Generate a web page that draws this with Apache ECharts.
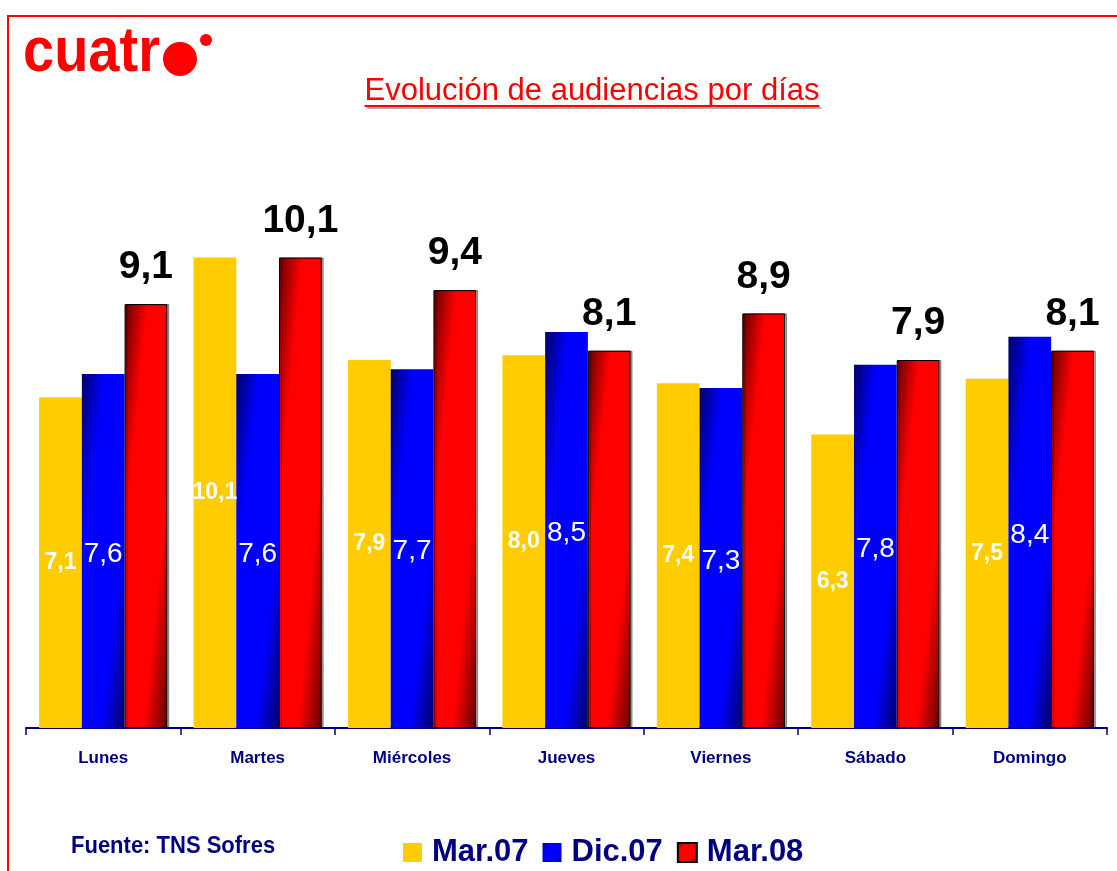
<!DOCTYPE html>
<html>
<head>
<meta charset="utf-8">
<title>Evolución de audiencias por días</title>
<script src="https://cdn.jsdelivr.net/npm/echarts@6/dist/echarts.min.js"></script>
<style>
  html, body { margin: 0; padding: 0; background: #fff; }
  #main { width: 1117px; height: 871px; }
</style>
</head>
<body>
<div id="main"></div>
<script>
// datos
const dias = ['Lunes', 'Martes', 'Miércoles', 'Jueves', 'Viernes', 'Sábado', 'Domingo'];
const marzo07 = [7.1, 10.1, 7.9, 8.0, 7.4, 6.3, 7.5];
const diciembre07 = [7.6, 7.6, 7.7, 8.5, 7.3, 7.8, 8.4];
const marzo08 = [9.1, 10.1, 9.4, 8.1, 8.9, 7.9, 8.1];
const nombres = ['Mar.07', 'Dic.07', 'Mar.08'];

const FONT = '"Liberation Sans", Arial, sans-serif';
const NAVY = '#000080';
const W = 1117, H = 871;
const grid = { left: 26, right: 10, top: 169, bottom: 143 };
const yMax = 12;
const catGap = 0.17;

// tamaño de barra aprox. para orientar el degradado en diagonal (como Excel)
const pxPorUnidad = (H - grid.top - grid.bottom) / yMax;
const anchoBarra = (W - grid.left - grid.right) / dias.length * (1 - catGap) / 3;

function paradas(oscuro, claro) {
    return [
        { offset: 0, color: oscuro },
        { offset: 0.27, color: claro },
        { offset: 0.72, color: claro },
        { offset: 1, color: oscuro }
    ];
}
function degradado(v, oscuro, claro) {
    const h = v * pxPorUnidad, w = anchoBarra;
    const L2 = h * h + w * w;
    const a = h * h / L2, b = w * w / L2;
    return new echarts.graphic.LinearGradient(0.5 - a, 0.5 - b, 0.5 + a, 0.5 + b, paradas(oscuro, claro));
}
function degradadoLeyenda(oscuro, claro) {
    return new echarts.graphic.LinearGradient(0, 0, 1, 1, paradas(oscuro, claro));
}
const coma = p => p.value.toFixed(1).replace('.', ',');

// ancho del título para el subrayado
const ctx = document.createElement('canvas').getContext('2d');
const tituloTxt = 'Evolución de audiencias por días';
const tituloFont = 31;
ctx.font = tituloFont + 'px ' + FONT;
const tituloW = ctx.measureText(tituloTxt).width;
const tituloX = 592;

const chart = echarts.init(document.getElementById('main'));

chart.setOption({
    animation: false,
    backgroundColor: '#fff',
    grid: grid,
    legend: {
        data: nombres,
        left: 398,
        top: 832,
        icon: 'rect',
        itemWidth: 19,
        itemHeight: 19,
        itemGap: 14,
        textStyle: {
            color: NAVY,
            fontSize: 31,
            fontWeight: 'bold',
            fontFamily: FONT,
            padding: [0, 0, 0, 5]
        }
    },
    xAxis: {
        type: 'category',
        data: dias,
        axisLine: { show: true, lineStyle: { color: NAVY, width: 2 } },
        axisTick: { show: true, length: 7, lineStyle: { color: NAVY, width: 1.5 } },
        axisLabel: {
            color: NAVY,
            fontSize: 17,
            fontWeight: 'bold',
            fontFamily: FONT,
            margin: 22
        }
    },
    yAxis: {
        type: 'value',
        min: 0,
        max: yMax,
        show: false,
        splitLine: { show: false }
    },
    series: [
        {
            name: 'Mar.07',
            type: 'bar',
            barGap: '0%',
            barCategoryGap: '17%',
            data: marzo07,
            itemStyle: { color: '#FFCC00' },
            label: {
                show: true,
                position: 'inside',
                color: '#fff',
                fontSize: 23,
                fontWeight: 'bold',
                fontFamily: FONT,
                formatter: coma
            }
        },
        {
            name: 'Dic.07',
            type: 'bar',
            data: diciembre07.map(v => ({ value: v, itemStyle: { color: degradado(v, '#000066', '#0000FF') } })),
            itemStyle: { color: degradadoLeyenda('#000066', '#0000FF') },
            label: {
                show: true,
                position: 'inside',
                offset: [0, 3],
                color: '#fff',
                fontSize: 28,
                fontFamily: FONT,
                formatter: coma
            }
        },
        {
            name: 'Mar.08',
            type: 'bar',
            data: marzo08.map(v => ({ value: v, itemStyle: { color: degradado(v, '#600000', '#FF0000') } })),
            itemStyle: {
                color: degradadoLeyenda('#600000', '#FF0000'),
                borderColor: '#000',
                borderWidth: 1,
                shadowColor: 'rgba(0,0,0,0.35)',
                shadowOffsetX: 2,
                shadowOffsetY: 0,
                shadowBlur: 0
            },
            label: {
                show: true,
                position: 'top',
                distance: 17,
                color: '#000',
                fontSize: 39,
                fontWeight: 'bold',
                fontFamily: FONT,
                formatter: coma
            }
        }
    ],
    graphic: [
        // marco rojo
        {
            type: 'polyline',
            silent: true,
            shape: { points: [[8, H], [8, 16], [W, 16]] },
            style: { stroke: '#FF0000', lineWidth: 2, fill: null }
        },
        // logo
        {
            type: 'text',
            left: 23,
            top: 22,
            scaleY: 1.12,
            style: { text: 'cuatr', fill: '#FF0000', font: 'bold 56px ' + FONT }
        },
        { type: 'circle', shape: { cx: 180, cy: 59, r: 17 }, style: { fill: '#FF0000' } },
        { type: 'circle', shape: { cx: 206, cy: 40, r: 6 }, style: { fill: '#FF0000' } },
        // título subrayado con sombra
        {
            type: 'text',
            x: tituloX,
            y: 76,
            style: {
                text: tituloTxt,
                fill: '#FF0000',
                font: tituloFont + 'px ' + FONT,
                align: 'center',
                verticalAlign: 'top',
                textShadowColor: '#b0b0b0',
                textShadowOffsetX: 2,
                textShadowOffsetY: 2,
                textShadowBlur: 0
            }
        },
        {
            type: 'line',
            shape: { x1: tituloX - tituloW / 2, y1: 106, x2: tituloX + tituloW / 2, y2: 106 },
            style: {
                stroke: '#FF0000',
                lineWidth: 2,
                shadowColor: '#b0b0b0',
                shadowOffsetX: 2,
                shadowOffsetY: 2,
                shadowBlur: 0
            }
        },
        // fuente
        {
            type: 'text',
            x: 71,
            y: 846,
            scaleY: 1.12,
            style: {
                text: 'Fuente: TNS Sofres',
                fill: NAVY,
                font: 'bold 22px ' + FONT,
                verticalAlign: 'middle'
            }
        }
    ]
});
</script>
</body>
</html>
